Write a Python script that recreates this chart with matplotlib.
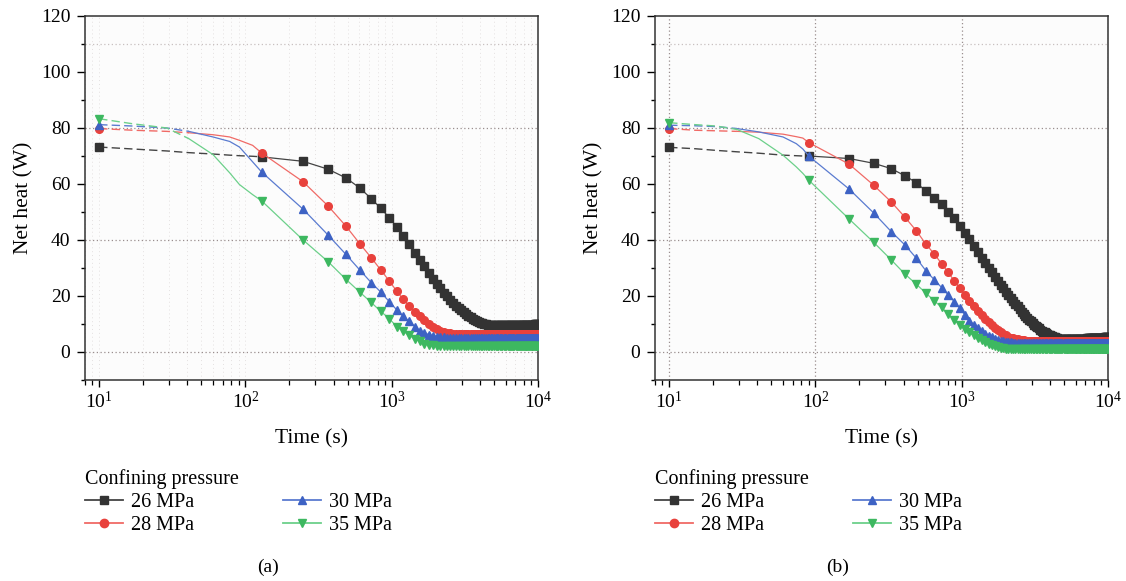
import numpy as np
import matplotlib
matplotlib.use("Agg")
import matplotlib.pyplot as plt
from matplotlib.ticker import LogLocator, MultipleLocator, NullFormatter

plt.rcParams['font.family'] = ['Liberation Serif', 'DejaVu Serif']
plt.rcParams['mathtext.fontset'] = 'custom'
plt.rcParams['mathtext.rm'] = 'Liberation Serif'
plt.rcParams['font.size'] = 14

labels = ['26 MPa', '28 MPa', '30 MPa', '35 MPa']
colors = ['#333333', '#e8413c', '#3d62c4', '#3db860']
line_colors = ['#444444', '#f06a66', '#5a7bd0', '#6cd08a']
markers = ['s', 'o', '^', 'v']

# ---- panel (a): fine early points, then one point every ~119 s ----
early_t_a = [10, 17, 29, 41, 60, 78, 91, 112]
early_a = [
    [73.2, 72.5, 71.8, 71.2, 70.7, 70.3, 70.1, 69.9],
    [79.8, 79.2, 78.8, 78.3, 77.6, 76.8, 75.6, 73.8],
    [81.2, 80.7, 80.0, 78.8, 76.8, 75.2, 73.2, 67.9],
    [83.3, 81.5, 80.0, 76.2, 70.5, 64.0, 59.8, 56.2],
]
dt_a = 118.9
black_a = [73.2, 69.7, 68.1, 65.3, 62.2, 58.6, 54.8, 51.3, 48.0, 44.7,
           41.6, 38.4, 35.5, 33.0, 30.6, 28.2, 26.2, 24.4, 22.8, 21.2,
           19.9, 18.7, 17.6, 16.6, 15.7, 14.9, 14.2, 13.5, 12.9, 12.4,
           11.9, 11.5, 11.1, 10.8, 10.5, 10.3, 10.1, 9.9, 9.8, 9.7,
           9.6, 9.6, 9.6, 9.6, 9.6, 9.6, 9.6, 9.6, 9.6, 9.6,
           9.6, 9.6, 9.6, 9.6, 9.6, 9.6, 9.6, 9.6, 9.6, 9.6,
           9.7, 9.7, 9.7, 9.7, 9.7, 9.7, 9.7, 9.7, 9.7, 9.7,
           9.7, 9.7, 9.7, 9.8, 9.8, 9.8, 9.8, 9.8, 9.8, 9.8,
           9.9, 9.9, 9.9, 10.0, 10.0]
red_a = [79.8, 71.1, 60.8, 52.2, 45.0, 38.7, 33.7, 29.3, 25.4, 21.8,
         18.8, 16.5, 14.4, 12.8, 11.3, 9.9, 9.0, 8.1, 7.5, 7.1,
         6.9, 6.7, 6.6, 6.5, 6.4, 6.4, 6.4, 6.4, 6.4, 6.4,
         6.4, 6.4, 6.4, 6.4, 6.4, 6.4, 6.4, 6.4, 6.4, 6.4,
         6.4, 6.4, 6.4, 6.4, 6.4, 6.4, 6.4, 6.4, 6.4, 6.4,
         6.4, 6.4, 6.4, 6.4, 6.4, 6.4, 6.4, 6.4, 6.4, 6.4,
         6.3, 6.3, 6.3, 6.3, 6.3, 6.3, 6.3, 6.3, 6.3, 6.3,
         6.3, 6.3, 6.3, 6.3, 6.3, 6.3, 6.3, 6.3, 6.3, 6.3,
         6.3, 6.3, 6.3, 6.3, 6.3]
blue_a = [81.2, 64.3, 51.0, 41.8, 34.9, 29.3, 24.8, 21.4, 18.0, 15.1,
          12.7, 10.9, 9.1, 7.6, 6.8, 6.2, 5.8, 5.5, 5.3, 5.2,
          5.1, 5.0, 5.0, 5.0, 5.0, 5.0, 5.0, 5.0, 5.0, 5.0,
          5.0, 5.0, 5.0, 5.0, 5.0, 5.0, 5.0, 5.0, 5.0, 5.0,
          4.9, 4.9, 4.9, 4.9, 4.9, 4.9, 4.9, 4.9, 4.9, 4.9,
          4.9, 4.9, 4.9, 4.9, 4.9, 4.9, 4.9, 4.9, 4.9, 4.9,
          4.9, 4.9, 4.9, 4.9, 4.9, 4.9, 4.9, 4.9, 4.9, 4.9,
          4.9, 4.9, 4.9, 4.9, 4.9, 4.9, 4.9, 4.9, 4.9, 4.9,
          4.9, 4.9, 4.9, 4.9, 4.9]
green_a = [83.3, 54.0, 40.0, 32.3, 26.0, 21.4, 17.7, 14.5, 11.9, 9.1,
           7.4, 5.9, 4.7, 3.8, 3.0, 2.6, 2.4, 2.3, 2.2, 2.1,
           2.0, 2.0, 2.0, 2.0, 2.0, 2.0, 2.0, 2.0, 2.0, 2.0,
           2.0, 2.0, 2.0, 2.0, 2.0, 2.0, 2.0, 2.0, 2.0, 2.0,
           2.0, 2.0, 2.0, 2.0, 2.0, 2.0, 2.0, 2.0, 2.0, 2.0,
           2.0, 2.0, 2.0, 2.0, 2.0, 2.0, 2.0, 2.0, 2.0, 2.0,
           2.0, 2.0, 2.0, 2.0, 2.0, 2.0, 2.0, 2.0, 2.0, 2.0,
           2.0, 2.0, 2.0, 2.0, 2.0, 2.0, 2.0, 2.0, 2.0, 2.0,
           2.0, 2.0, 2.0, 2.0, 2.0]

# ---- panel (b): fine early points, then one point every ~80 s ----
early_t_b = [10, 15, 21, 29, 41, 60, 74, 82]
early_b = [
    [73.1, 72.6, 72.0, 71.5, 71.0, 70.3, 70.1, 70.0],
    [79.8, 79.2, 79.0, 78.8, 78.5, 77.8, 76.9, 76.4],
    [81.0, 80.8, 80.5, 79.8, 78.6, 76.8, 74.4, 72.5],
    [81.9, 81.2, 80.7, 79.5, 76.2, 70.3, 66.1, 63.8],
]
dt_b = 79.92
black_b = [73.1, 70.0, 69.1, 67.4, 65.5, 62.9, 60.5, 57.4, 55.1, 52.7,
           50.1, 47.7, 45.1, 42.5, 40.3, 37.9, 35.6, 33.5, 31.8, 30.1,
           28.5, 26.9, 25.5, 24.1, 22.8, 21.5, 20.2, 19.2, 18.2, 17.2,
           16.3, 15.3, 14.4, 13.6, 12.9, 12.2, 11.6, 11.0, 10.4, 9.8,
           9.2, 8.8, 8.4, 8.0, 7.6, 7.3, 7.0, 6.7, 6.4, 6.2,
           6.0, 5.8, 5.6, 5.4, 5.2, 5.0, 4.9, 4.8, 4.7, 4.6,
           4.6, 4.6, 4.6, 4.6, 4.6, 4.6, 4.6, 4.6, 4.6, 4.6,
           4.7, 4.7, 4.7, 4.7, 4.7, 4.7, 4.7, 4.7, 4.7, 4.7,
           4.8, 4.8, 4.8, 4.8, 4.8, 4.8, 4.8, 4.8, 4.8, 4.8,
           4.9, 4.9, 4.9, 4.9, 4.9, 4.9, 4.9, 4.9, 4.9, 4.9,
           5.0, 5.0, 5.0, 5.0, 5.0, 5.0, 5.0, 5.0, 5.0, 5.0,
           5.1, 5.1, 5.1, 5.1, 5.1, 5.1, 5.1, 5.1, 5.1, 5.1,
           5.2, 5.2, 5.2, 5.2, 5.2, 5.2]
red_b = [79.8, 74.8, 67.1, 59.6, 53.6, 48.1, 43.3, 38.5, 35.0, 31.5,
         28.4, 25.4, 22.8, 20.4, 18.1, 16.3, 14.6, 13.1, 11.8, 10.6,
         9.6, 8.7, 7.9, 7.2, 6.6, 5.9, 5.4, 5.1, 4.9, 4.7,
         4.5, 4.4, 4.3, 4.2, 4.1, 4.0, 4.0, 4.0, 4.0, 4.0,
         4.0, 4.0, 4.0, 4.0, 4.0, 4.0, 4.0, 4.0, 4.0, 4.0,
         4.0, 4.0, 4.0, 4.0, 4.0, 4.0, 4.0, 4.0, 4.0, 4.0,
         4.0, 4.0, 4.0, 4.0, 4.0, 4.0, 4.0, 4.0, 4.0, 4.0,
         4.0, 4.0, 4.0, 4.0, 4.0, 4.0, 4.0, 4.0, 4.0, 4.0,
         4.0, 4.0, 4.0, 4.0, 4.0, 4.0, 4.0, 4.0, 4.0, 4.0,
         4.0, 4.0, 4.0, 4.0, 4.0, 4.0, 4.0, 4.0, 4.0, 4.0,
         4.0, 4.0, 4.0, 4.0, 4.0, 4.0, 4.0, 4.0, 4.0, 4.0,
         4.0, 4.0, 4.0, 4.0, 4.0, 4.0, 4.0, 4.0, 4.0, 4.0,
         4.0, 4.0, 4.0, 4.0, 4.0, 4.0]
blue_b = [81.0, 70.0, 58.2, 49.7, 43.0, 38.2, 33.5, 29.0, 25.8, 23.0,
          20.4, 18.0, 15.7, 13.3, 11.2, 9.8, 8.5, 7.4, 6.5, 5.8,
          5.2, 4.7, 4.3, 4.0, 3.8, 3.6, 3.5, 3.4, 3.3, 3.2,
          3.2, 3.2, 3.2, 3.2, 3.2, 3.2, 3.2, 3.2, 3.2, 3.2,
          3.2, 3.2, 3.2, 3.2, 3.2, 3.2, 3.2, 3.2, 3.2, 3.2,
          3.2, 3.2, 3.2, 3.2, 3.2, 3.2, 3.2, 3.2, 3.2, 3.2,
          3.2, 3.2, 3.2, 3.2, 3.2, 3.2, 3.2, 3.2, 3.2, 3.2,
          3.2, 3.2, 3.2, 3.2, 3.2, 3.2, 3.2, 3.2, 3.2, 3.2,
          3.2, 3.2, 3.2, 3.2, 3.2, 3.2, 3.2, 3.2, 3.2, 3.2,
          3.2, 3.2, 3.2, 3.2, 3.2, 3.2, 3.2, 3.2, 3.2, 3.2,
          3.2, 3.2, 3.2, 3.2, 3.2, 3.2, 3.2, 3.2, 3.2, 3.2,
          3.2, 3.2, 3.2, 3.2, 3.2, 3.2, 3.2, 3.2, 3.2, 3.2,
          3.2, 3.2, 3.2, 3.2, 3.2, 3.2]
green_b = [81.9, 61.4, 47.5, 39.2, 32.9, 27.8, 24.2, 21.0, 18.3, 15.9,
           13.5, 11.5, 9.7, 8.3, 7.0, 5.9, 5.0, 4.2, 3.5, 2.9,
           2.4, 2.0, 1.7, 1.5, 1.3, 1.2, 1.1, 1.0, 1.0, 1.0,
           1.0, 1.0, 1.0, 1.0, 1.0, 1.0, 1.0, 1.0, 1.0, 1.0,
           1.0, 1.0, 1.0, 1.0, 1.0, 1.0, 1.0, 1.0, 1.0, 1.0,
           1.0, 1.0, 1.0, 1.0, 1.0, 1.0, 1.0, 1.0, 1.0, 1.0,
           1.0, 1.0, 1.0, 1.0, 1.0, 1.0, 1.0, 1.0, 1.0, 1.0,
           1.0, 1.0, 1.0, 1.0, 1.0, 1.0, 1.0, 1.0, 1.0, 1.0,
           1.0, 1.0, 1.0, 1.0, 1.0, 1.0, 1.0, 1.0, 1.0, 1.0,
           1.0, 1.0, 1.0, 1.0, 1.0, 1.0, 1.0, 1.0, 1.0, 1.0,
           1.0, 1.0, 1.0, 1.0, 1.0, 1.0, 1.0, 1.0, 1.0, 1.0,
           1.0, 1.0, 1.0, 1.0, 1.0, 1.0, 1.0, 1.0, 1.0, 1.0,
           1.0, 1.0, 1.0, 1.0, 1.0, 1.0]

grid_c = '#9a8e8e'


def draw_panel(ax, early_t, early_vals, dt, series, vgrid_major):
    for i, ys in enumerate(series):
        ys = np.array(ys)
        t = 10 + dt * np.arange(len(ys))
        et = np.array(early_t)
        ev = np.array(early_vals[i])
        # early part of the line shows up dashed in the figure
        if i == 0:
            ax.plot(np.append(et, t[1]), np.append(ev, ys[1]), color=line_colors[i],
                    lw=1.0, ls=(0, (6, 3)), zorder=2 + i)
        else:
            ax.plot(et[:4], ev[:4], color=line_colors[i], lw=1.0, ls=(0, (6, 3)), zorder=2 + i)
            ax.plot(np.append(et[3:], t[1]), np.append(ev[3:], ys[1]), color=line_colors[i],
                    lw=0.9, zorder=2 + i)
        ax.plot(t[1:], ys[1:], color=line_colors[i], lw=0.9, zorder=2 + i)
        ax.plot(t, ys, ls='none', marker=markers[i], ms=5.5, color=colors[i],
                mec=colors[i], zorder=3 + i)

    ax.set_xscale('log')
    ax.set_xlim(8, 1e4)
    ax.set_ylim(-10, 120)
    ax.yaxis.set_major_locator(MultipleLocator(20))
    ax.yaxis.set_minor_locator(MultipleLocator(10))
    ax.xaxis.set_major_locator(LogLocator(base=10, numticks=10))
    ax.xaxis.set_minor_locator(LogLocator(base=10, subs=np.arange(2, 10), numticks=20))
    ax.xaxis.set_minor_formatter(NullFormatter())
    ax.tick_params(axis='y', which='major', direction='out', length=6, width=1,
                   pad=4.5, labelsize=14)
    ax.tick_params(axis='y', which='minor', direction='out', length=3, width=1)
    ax.tick_params(axis='x', which='major', direction='out', length=5, width=1,
                   pad=3, labelsize=14)
    ax.tick_params(axis='x', which='minor', direction='out', length=3.5, width=0.9)
    for s in ax.spines.values():
        s.set_color('#333333')
        s.set_linewidth(1.1)
    ax.set_facecolor('#fcfcfc')

    for yv, c in [(0, grid_c), (40, grid_c), (80, grid_c), (110, '#c8c0c0')]:
        ax.axhline(yv, color=c, lw=0.9, ls=(0, (1, 2)), zorder=1)
    if vgrid_major:
        ax.grid(True, axis='x', which='major', color=grid_c, lw=0.9, ls=(0, (1, 2)))
    else:
        ax.grid(True, axis='x', which='both', color='#e4e0e0', lw=0.7, ls=(0, (1, 3)))
    ax.set_axisbelow(True)
    ax.set_xlabel('Time (s)', fontsize=15.5, labelpad=12)
    ax.set_ylabel('Net heat (W)', fontsize=15.5, labelpad=5)


fig = plt.figure(figsize=(11.26, 5.81), dpi=100)
ax1 = fig.add_axes([85 / 1126, 1 - 380 / 581, 453 / 1126, 364 / 581])
ax2 = fig.add_axes([655 / 1126, 1 - 380 / 581, 453 / 1126, 364 / 581])

draw_panel(ax1, early_t_a, early_a, dt_a, [black_a, red_a, blue_a, green_a], False)
draw_panel(ax2, early_t_b, early_b, dt_b, [black_b, red_b, blue_b, green_b], True)

for x0, tag, xt in [(85, '(a)', 268), (655, '(b)', 838)]:
    handles = [plt.Line2D([], [], color=line_colors[i], lw=1.3, marker=markers[i], ms=6,
                          mfc=colors[i], mec=colors[i]) for i in range(4)]
    leg = fig.legend(handles, labels, title='Confining pressure', ncol=2,
                     loc='upper left', bbox_to_anchor=(x0 / 1126, 1 - 469 / 581),
                     frameon=False, fontsize=14.5, title_fontsize=14.5, alignment='left',
                     handlelength=1.9, handletextpad=0.4, columnspacing=4.4,
                     labelspacing=0.2, borderpad=0, borderaxespad=0)
    fig.text(xt / 1126, 1 - 567 / 581, tag, ha='center', va='center', fontsize=14)

fig.savefig('out.png', dpi=100)
